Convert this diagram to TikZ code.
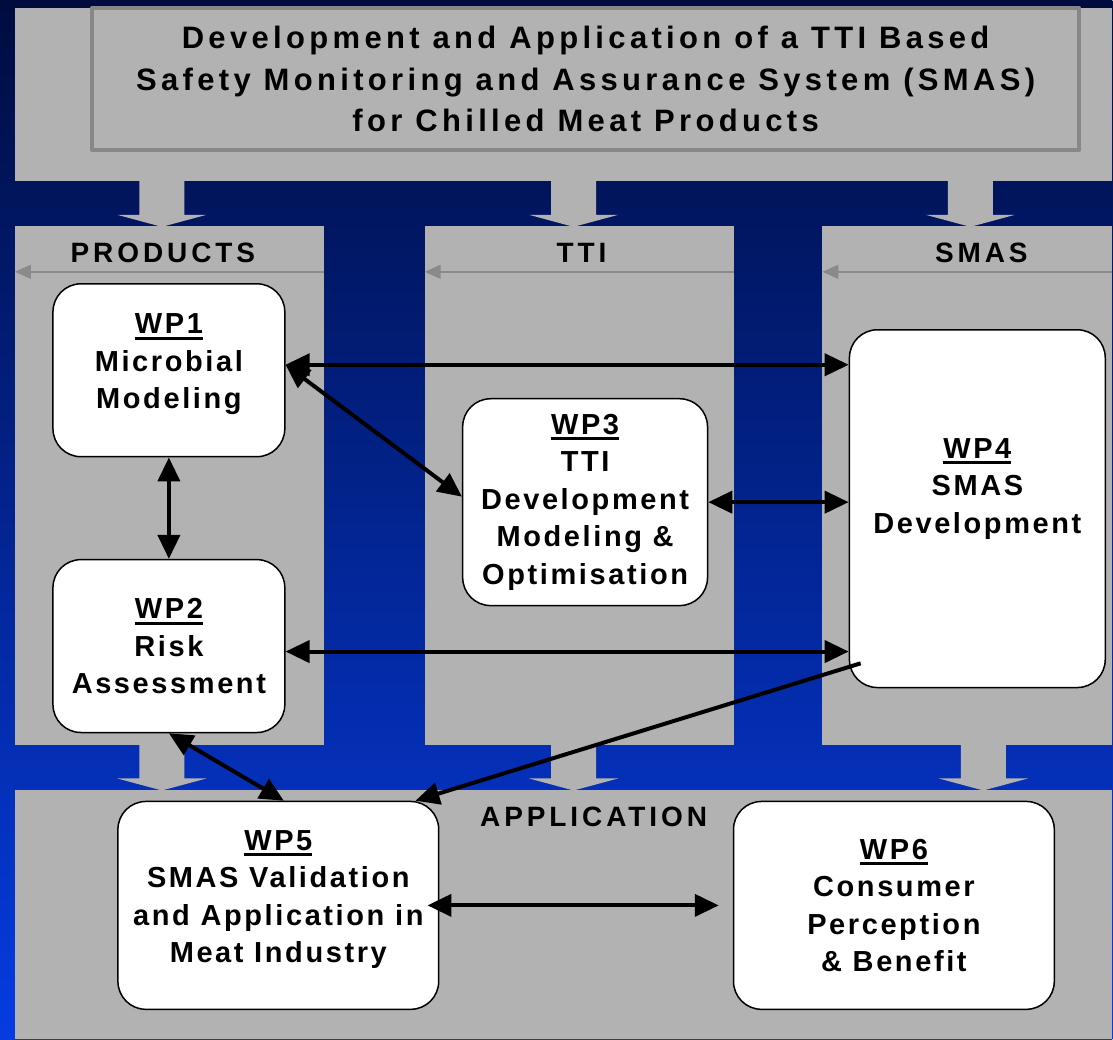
\documentclass[tikz,border=0pt]{standalone}
\usepackage{fontspec}
\setmainfont{Liberation Sans}
\newfontfamily\widefont{Liberation Sans}[LetterSpace=14]
\newfontfamily\boxfont{Liberation Sans}[LetterSpace=9]
\usetikzlibrary{arrows.meta,positioning}

% thick underline for the work package numbers
\newcommand{\wptag}[1]{\setbox0=\hbox{#1}\leavevmode\rlap{\rule[-6pt]{\wd0}{3pt}}\box0}

\begin{document}
\begin{tikzpicture}[x=1pt,y=-1pt,line join=round]
  % Colors
  \definecolor{navytop}{RGB}{0,12,63}
  \definecolor{navymid}{RGB}{3,40,155}
  \definecolor{navybot}{RGB}{5,60,225}
  \colorlet{panelgray}{black!30}
  \colorlet{framegray}{black!47}
  \colorlet{guidegray}{black!46}

  % Styles
  \tikzstyle{panel}=[fill=panelgray]
  \tikzstyle{guide}=[draw=guidegray,line width=1.5pt,-{Triangle[length=16pt,width=14pt]}]
  \tikzstyle{titlebox}=[draw=framegray,fill=panelgray,line width=4pt,minimum width=988pt,minimum height=142pt,align=center,font=\widefont\fontsize{31}{41.5}\selectfont\bfseries]
  \tikzstyle{heading}=[inner sep=0pt,font=\widefont\fontsize{28}{34}\selectfont\bfseries]
  \tikzstyle{wpbox}=[draw,fill=white,line width=1.5pt,rounded corners=28pt,align=center,inner sep=0pt,font=\boxfont\fontsize{29}{37.5}\selectfont\bfseries]
  \tikzstyle{wptext}=[align=center,inner sep=0pt,font=\boxfont\fontsize{29}{37.5}\selectfont\bfseries]
  \tikzstyle{link}=[line width=4pt,>={Triangle[length=24pt,width=22pt]}]

  % background and gray bands
  \shade[top color=navytop,middle color=navymid,bottom color=navybot] (0,0) rectangle (1113,1040);
  \fill[panel] (15,8) rectangle (1113,181);
  \fill[panel] (15,226) rectangle (324,745);
  \fill[panel] (425,226) rectangle (734,745);
  \fill[panel] (823,226) rectangle (1113,745);
  \fill[panel] (15,791) rectangle (1113,1040);

  % broad arrows from band to band
  \foreach \x/\y in {162/180,574/180,971/180,162/744,574/744,984/744}
    \fill[panel] (\x-22.5,\y) -- ++(45,0) -- ++(0,35) -- ++(22,0) -- ++(-44.5,12) -- ++(-44.5,-12) -- ++(22,0) -- cycle;

  \node[titlebox] (title) at (586,79) {Development and Application of a TTI Based\\Safety Monitoring and Assurance System (SMAS)\\for Chilled Meat Products};

  % column headings
  \node[heading] (products) at (163,253) {PRODUCTS};
  \node[heading] (tti) at (582,253) {TTI};
  \node[heading] (smas) at (982,253) {SMAS};
  \node[heading] (application) at (594,817) {APPLICATION};
  \draw[guide] (324,272) -- (15,272);
  \draw[guide] (734,272) -- (425,272);
  \draw[guide] (1113,272) -- (823,272);

  % work packages
  \node[wpbox,minimum width=232pt,minimum height=173pt,
        label={[wptext,yshift=6pt]center:{\wptag{WP1}\\Microbial\\Modeling}}] (wp1) at (169,370.5) {};
  \node[wpbox,minimum width=232pt,minimum height=173pt] (wp2) at (169,646.5) {\wptag{WP2}\\Risk\\Assessment};
  \node[wpbox,minimum width=245pt,minimum height=207pt] (wp3) at (585.5,502.5) {\wptag{WP3}\\TTI\\Development\\Modeling \&\\Optimisation};
  \node[wpbox,minimum width=256pt,minimum height=358pt,
        label={[wptext,yshift=20pt]center:{\wptag{WP4}\\SMAS\\Development}}] (wp4) at (978,509) {};
  \node[wpbox,minimum width=321pt,minimum height=208pt,
        label={[wptext,yshift=6pt]center:{\wptag{WP5}\\SMAS Validation\\and Application in\\Meat Industry}}] (wp5) at (278.5,906) {};
  \node[wpbox,minimum width=321pt,minimum height=208pt] (wp6) at (894.5,906) {\wptag{WP6}\\Consumer\\Perception\\\& Benefit};

  % links between work packages
  \coordinate (w1a) at ([yshift=5.5pt]wp1.east);
  \coordinate (w2a) at ([yshift=-5.5pt]wp2.east);
  \draw[link,<->] (w1a) -- (w1a -| wp4.west);
  \draw[link,<->] (w1a) -- ([yshift=5.5pt]wp3.west);
  \draw[link,<->] (wp1.south) -- (wp2.north);
  \draw[link,<->] (wp3.east) -- (wp3.east -| wp4.west);
  \draw[link,<->] (w2a) -- (w2a -| wp4.west);
  \draw[link,->] ([shift={(12pt,25pt)}]wp4.south west) -- ([xshift=-24pt]wp5.north east);
  \draw[link,<->] (wp2.south) -- ([xshift=5.5pt]wp5.north);
  \draw[link,<->] ([xshift=-12pt]wp5.east) -- ([xshift=-14pt]wp6.west);
\end{tikzpicture}
\end{document}
